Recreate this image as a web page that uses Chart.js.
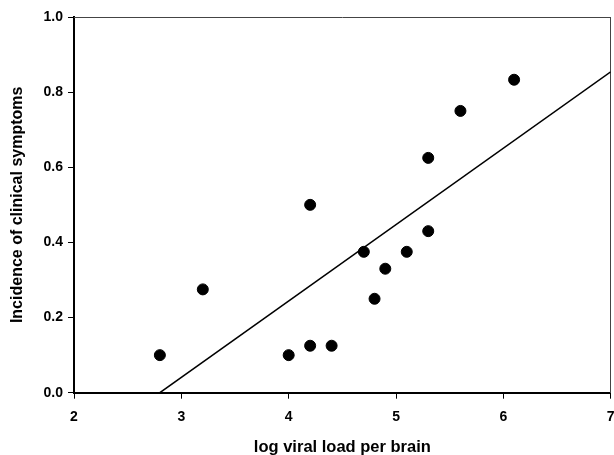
<!DOCTYPE html>
<html>
<head>
<meta charset="utf-8">
<script src="https://cdn.jsdelivr.net/npm/chart.js@4/dist/chart.umd.min.js"></script>
<style>
  html, body { margin: 0; padding: 0; background: #fff; }
  #wrap { width: 614px; height: 455px; }
</style>
</head>
<body>
<div id="wrap"><canvas id="chart" width="614" height="455"></canvas></div>
<script>
// observed points (log viral load, incidence)
const viralLoad = [2.8, 3.2, 4.0, 4.2, 4.2, 4.4, 4.7, 4.8, 4.9, 5.1, 5.3, 5.3, 5.6, 6.1];
const incidence = [0.10, 0.275, 0.10, 0.125, 0.50, 0.125, 0.375, 0.25, 0.33, 0.375, 0.43, 0.625, 0.75, 0.833];

// fitted line, ends
const fitX = [2.8, 7];
const fitY = [0, 0.854];

const xTicks = [2, 3, 4, 5, 6, 7];
const yTicks = [0, 0.2, 0.4, 0.6, 0.8, 1.0];

const font = "'Liberation Sans', Arial, sans-serif";

const points = viralLoad.map((x, i) => ({ x: x, y: incidence[i] }));
const fit = fitX.map((x, i) => ({ x: x, y: fitY[i] }));

const ctx = document.getElementById('chart').getContext('2d');
const chart = new Chart(ctx, {
  type: 'scatter',
  data: {
    datasets: [{
      label: 'observed',
      data: points,
      backgroundColor: '#000',
      borderColor: '#000',
      pointRadius: 5.5,
      pointHoverRadius: 5.5,
      xAxisID: 'x',
      yAxisID: 'y'
    }, {
      label: 'fit',
      type: 'line',
      data: fit,
      borderColor: '#000',
      borderWidth: 1.5,
      pointRadius: 0,
      fill: false,
      xAxisID: 'x',
      yAxisID: 'y'
    }]
  },
  options: {
    responsive: false,
    animation: false,
    events: [],
    layout: { autoPadding: false, padding: { top: 17, right: 3.3, left: 0, bottom: 0 } },
    plugins: { legend: { display: false }, tooltip: { enabled: false } },
    scales: {
      x: {
        type: 'linear',
        position: 'bottom',
        min: xTicks[0],
        max: xTicks[xTicks.length - 1],
        afterBuildTicks: s => { s.ticks = xTicks.map(v => ({ value: v })); },
        afterFit: s => { s.height = 62.3; s.paddingLeft = 0; s.paddingRight = 0; },
        ticks: {
          color: '#000',
          padding: 10,
          font: { family: font, size: 14, weight: 'bold' }
        },
        grid: { drawOnChartArea: false, drawTicks: true, tickLength: 6, color: '#000', lineWidth: 1 },
        border: { color: '#000', width: 2 },
        title: {
          display: true,
          text: 'log viral load per brain',
          color: '#000',
          padding: { top: -2, bottom: -2 },
          font: { family: font, size: 16.5, weight: 'bold' }
        }
      },
      y: {
        type: 'linear',
        position: 'left',
        min: yTicks[0],
        max: yTicks[yTicks.length - 1],
        afterBuildTicks: s => { s.ticks = yTicks.map(v => ({ value: v })); },
        afterFit: s => { s.width = 74; s.paddingTop = 0; s.paddingBottom = 0; },
        ticks: {
          color: '#000',
          padding: 5,
          callback: v => v.toFixed(1),
          font: { family: font, size: 14, weight: 'bold' }
        },
        grid: { drawOnChartArea: false, drawTicks: true, tickLength: 6, color: '#000', lineWidth: 1 },
        border: { color: '#000', width: 2 },
        title: {
          display: true,
          text: 'Incidence of clinical symptoms',
          color: '#000',
          padding: { top: 8, bottom: 0 },
          font: { family: font, size: 16, weight: 'bold' }
        }
      },
      xTop: {
        type: 'linear',
        position: 'top',
        min: xTicks[0],
        max: xTicks[xTicks.length - 1],
        afterFit: s => { s.height = 0; s.paddingLeft = 0; s.paddingRight = 0; },
        ticks: { display: false },
        grid: { display: false, drawTicks: false },
        border: { color: '#444', width: 1 }
      },
      yRight: {
        type: 'linear',
        position: 'right',
        min: yTicks[0],
        max: yTicks[yTicks.length - 1],
        afterFit: s => { s.width = 0; s.paddingTop = 0; s.paddingBottom = 0; },
        ticks: { display: false },
        grid: { display: false, drawTicks: false },
        border: { color: '#444', width: 1 }
      }
    }
  }
});
</script>
</body>
</html>
